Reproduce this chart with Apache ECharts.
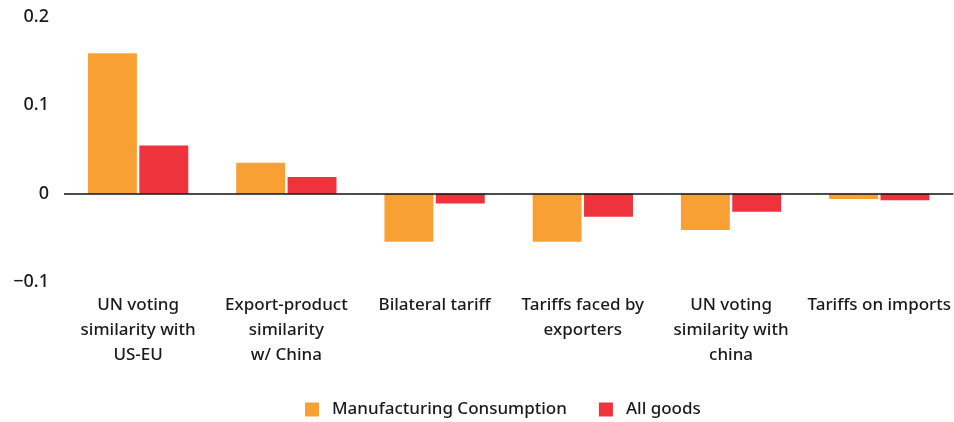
<!DOCTYPE html>
<html><head><meta charset="utf-8">
<script src="https://cdn.jsdelivr.net/npm/echarts@6/dist/echarts.min.js"></script>
<style>html,body{margin:0;padding:0;background:#fff}#c{width:954px;height:422px}</style>
</head><body><div id="c"></div>
<script>
const categories = ["UN voting\nsimilarity with\nUS-EU", "Export-product\nsimilarity\nw/ China", "Bilateral tariff", "Tariffs faced by\nexporters", "UN voting\nsimilarity with\nchina", "Tariffs on imports"];
const manufacturing = [0.159, 0.035, -0.0545, -0.0545, -0.041, -0.006];
const allGoods = [0.0545, 0.019, -0.011, -0.026, -0.0205, -0.0075];
const yTicks = [-0.1, 0, 0.1, 0.2];
const seriesNames = ["Manufacturing Consumption", "All goods"];

const FONT = "Noto Sans";
const chart = echarts.init(document.getElementById('c'));
chart.setOption({
  animation: false,
  textStyle: {fontFamily: FONT},
  grid: {left: 64, right: 0, top: 17, bottom: 140},
  legend: {
    data: seriesNames, top: 396, left: 300, icon: 'rect', itemWidth: 14, itemHeight: 14, itemGap: 32,
    textStyle: {fontFamily: FONT, fontSize: 17, fontWeight: 500, color: '#1a1a1a', padding: [0,0,0,8]}
  },
  xAxis: {
    type: 'category', data: categories,
    axisLine: {show: false}, axisTick: {show: false},
    axisLabel: {interval: 0, fontFamily: FONT, fontSize: 17, fontWeight: 500, color: '#1a1a1a', lineHeight: 25, margin: 11}
  },
  yAxis: {
    type: 'value', min: -0.1, max: 0.2, interval: 0.1,
    splitLine: {show: false}, axisLine: {show: false}, axisTick: {show: false},
    axisLabel: {fontFamily: FONT, fontSize: 18, fontWeight: 500, color: '#1a1a1a', margin: 15,
      formatter: v => { const t = yTicks.find(x => Math.abs(x - v) < 1e-9); return t === undefined ? '' : (t < 0 ? '\u2212' + Math.abs(t) : String(t)); }}
  },
  series: [
    {name: seriesNames[0], type: 'bar', data: manufacturing, barWidth: '33%', barGap: '5%',
     itemStyle: {color: '#F9A034'},
     markLine: {silent: true, symbol: 'none', label: {show: false}, lineStyle: {color: '#111', width: 1.5, type: 'solid'}, data: [{yAxis: 0}]}},
    {name: seriesNames[1], type: 'bar', data: allGoods, barWidth: '33%', barGap: '5%',
     itemStyle: {color: '#EE333C'}}
  ]
});
</script></body></html>
